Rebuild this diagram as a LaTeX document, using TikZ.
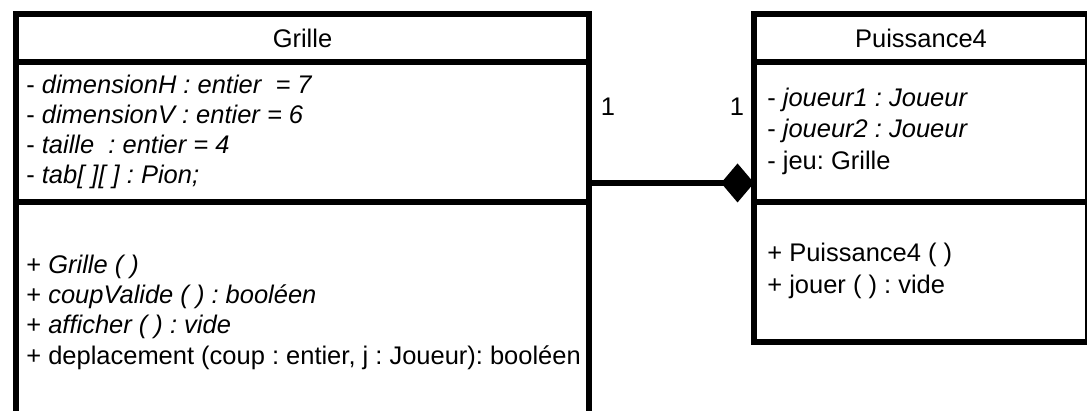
\documentclass[tikz,border=0pt]{standalone}
\usepackage{fontspec}
\setmainfont{Liberation Sans}
\frenchspacing
\usetikzlibrary{arrows.meta,positioning,calc}

\begin{document}
\begin{tikzpicture}[x=0.02cm, y=-0.02cm,
      cls/.style={rectangle, draw=black, line width=3.4pt, inner sep=0pt, outer sep=0pt},
      ttl/.style={font=\fontsize{14.5}{17}\selectfont},
      txt/.style={anchor=base west, inner sep=0pt, font=\fontsize{14.5}{17}\selectfont},
      link/.style={line width=3.4pt, -{Diamond[length=0.66cm, width=0.78cm]}}
    ]
    \useasboundingbox (0,0) rectangle (1087,411);
    % classe Grille
    \node[cls, ttl, minimum width=11.46cm, minimum height=0.96cm] (gtitle) at (302.5,38) {Grille};
    \node[cls, minimum width=11.46cm, minimum height=2.8cm, below=0pt of gtitle] (gattr) {};
    \node[cls, minimum width=11.46cm, minimum height=4.76cm, below=0pt of gattr] (gmeth) {};
    \node[txt] (ga1) at (26, 94) {- \itshape dimensionH : entier \ = 7};
    \node[txt] (ga2) at (26,124) {- \itshape dimensionV : entier = 6};
    \node[txt] (ga3) at (26,154) {- \itshape taille \ : entier = 4};
    \node[txt] (ga4) at (26,184) {- \itshape tab[ ][ ] : Pion;};
    \node[txt] (gm1) at (26,274) {+ \itshape Grille ( )};
    \node[txt] (gm2) at (26,304) {+ \itshape coupValide ( ) : booléen};
    \node[txt] (gm3) at (26,334) {+ \itshape afficher ( ) : vide};
    \node[txt] (gm4) at (26,364) {+ deplacement (coup : entier, j : Joueur): booléen};
    % classe Puissance4
    \node[cls, ttl, minimum width=6.68cm, minimum height=0.96cm] (ptitle) at (921,38) {Puissance4};
    \node[cls, minimum width=6.68cm, minimum height=2.8cm, below=0pt of ptitle] (pattr) {};
    \node[cls, minimum width=6.68cm, minimum height=2.8cm, below=0pt of pattr] (pmeth) {};
    \node[txt] (pa1) at (767,107) {- \itshape joueur1 : Joueur};
    \node[txt] (pa2) at (767,138) {- \itshape joueur2 : Joueur};
    \node[txt] (pa3) at (767,170) {- jeu: Grille};
    \node[txt] (pm1) at (767,262) {+ Puissance4 ( )};
    \node[txt] (pm2) at (767,294) {+ jouer ( ) : vide};
    % composition
    \draw[link] ($(gattr.south east)+(0,-19)$) -- ($(pattr.south west)+(0,-19)$);
    \node[ttl, anchor=base] (mg) at (608,116) {1};
    \node[ttl, anchor=base] (mp) at (737,116) {1};
  \end{tikzpicture}
\end{document}
